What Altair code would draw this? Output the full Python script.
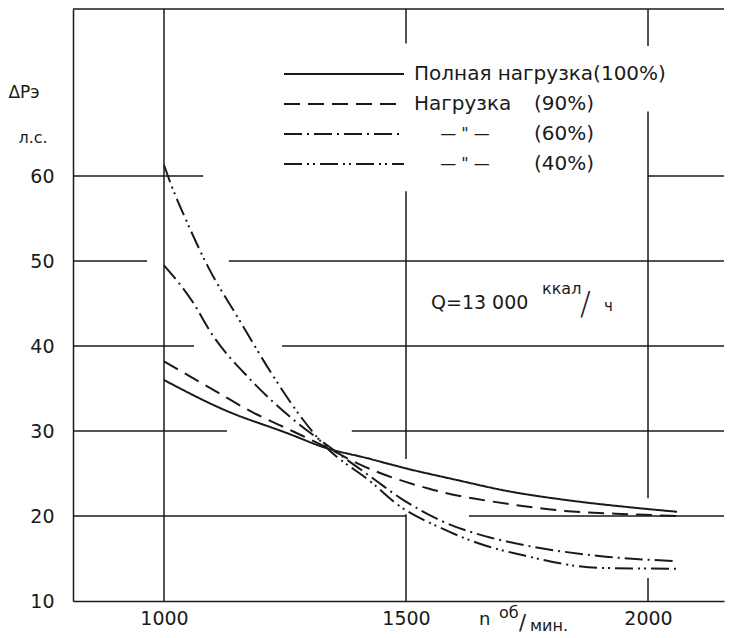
import altair as alt
import pandas as pd

# ---- data ----
series_names = ["Полная нагрузка (100%)", "Нагрузка (90%)", "Нагрузка (60%)", "Нагрузка (40%)"]

s100_x = [1000, 1128, 1252, 1335, 1420, 1500, 1600, 1713, 1828, 1967, 2060]
s100_y = [36.0, 32.4, 29.8, 28.0, 26.8, 25.6, 24.3, 22.9, 21.9, 21.0, 20.5]

s90_x = [1000, 1079, 1190, 1265, 1335, 1403, 1548, 1713, 1828, 1967, 2060]
s90_y = [38.2, 35.6, 32.0, 30.0, 28.1, 26.1, 23.2, 21.4, 20.6, 20.2, 20.0]

s60_x = [1000, 1058, 1099, 1176, 1264, 1340, 1430, 1486, 1574, 1665, 1733, 1899, 2054]
s60_y = [49.5, 45.3, 41.4, 36.2, 31.5, 28.2, 24.5, 22.2, 19.4, 17.6, 16.7, 15.3, 14.7]

s40_x = [1000, 1016, 1045, 1093, 1150, 1223, 1285, 1330, 1430, 1481, 1572, 1665, 1733, 1899, 2058]
s40_y = [61.3, 58.8, 54.9, 49.1, 43.6, 36.7, 31.5, 28.4, 23.9, 21.4, 18.6, 16.5, 15.5, 13.9, 13.8]

x_ticks = [1000, 1500, 2000]
y_ticks = [10, 20, 30, 40, 50, 60]

# grid segments (data units) - the drawing leaves gaps round curves and texts
grid_h_y = [60, 60, 50, 50, 40, 40, 30, 30, 20, 20]
grid_h_x1 = [812, 2000, 812, 1134, 812, 1244, 812, 1388, 812, 1630]
grid_h_x2 = [1081, 2157, 965, 2157, 1062, 2157, 1130, 2157, 1500, 2157]

grid_v_x = [1000, 1500, 1500, 1500, 2000, 2000, 2000]
grid_v_y1 = [10, 75.6, 26.7, 10, 75.3, 22.1, 10]
grid_v_y2 = [79.65, 79.65, 58.2, 20.2, 79.65, 67.6, 12.7]

# ---- build tables ----
rows = []
for name, xs, ys in zip(series_names, [s100_x, s90_x, s60_x, s40_x], [s100_y, s90_y, s60_y, s40_y]):
    for i, (a, b) in enumerate(zip(xs, ys)):
        rows.append({"series": name, "n": a, "dP": b, "order": i})
curves = pd.DataFrame(rows)
gh = pd.DataFrame({"y": grid_h_y, "x1": grid_h_x1, "x2": grid_h_x2})
gv = pd.DataFrame({"x": grid_v_x, "y1": grid_v_y1, "y2": grid_v_y2})

W, H = 651, 592
FONT = "DejaVu Sans"
INK = "#1a1a1a"
dashes = [[1, 0], [16, 8], [18, 5, 2, 5], [18, 5, 2, 4, 2, 5]]

xs = alt.Scale(domain=[812, 2157], nice=False, zero=False)
ys = alt.Scale(domain=[10, 79.65], nice=False, zero=False)
xaxis = alt.Axis(values=x_ticks, grid=False, ticks=False, title=None, labelFontSize=19,
                 labelPadding=8, labelFont=FONT, labelColor=INK, domainColor=INK, domainWidth=1.5,
                 format="d")
yaxis = alt.Axis(values=y_ticks, grid=False, ticks=False, title=None, labelFontSize=19,
                 labelPadding=19, labelFont=FONT, labelColor=INK, domainColor=INK, domainWidth=1.5)

lines = alt.Chart(curves).mark_line(interpolate="monotone", strokeWidth=2, color=INK).encode(
    x=alt.X("n:Q", scale=xs, axis=xaxis),
    y=alt.Y("dP:Q", scale=ys, axis=yaxis),
    strokeDash=alt.StrokeDash("series:N", scale=alt.Scale(domain=series_names, range=dashes), legend=None),
    detail="series:N",
    order="order:Q",
)

hgrid = alt.Chart(gh).mark_rule(strokeWidth=1.5, color=INK).encode(
    x=alt.X("x1:Q", scale=xs, axis=xaxis), x2="x2:Q", y=alt.Y("y:Q", scale=ys, axis=yaxis)
)
vgrid = alt.Chart(gv).mark_rule(strokeWidth=1.5, color=INK).encode(
    x=alt.X("x:Q", scale=xs, axis=xaxis), y=alt.Y("y1:Q", scale=ys, axis=yaxis), y2="y2:Q"
)

one = pd.DataFrame({"k": [0]})
top = alt.Chart(one).mark_rule(strokeWidth=1.5, color=INK).encode(
    x=alt.value(0), x2=alt.value(W), y=alt.value(0)
)

def txt(s, x, y, size=17, align="left", baseline="alphabetic", weight="normal"):
    return alt.Chart(one).mark_text(text=s, font=FONT, fontSize=size, color=INK,
                                    align=align, baseline=baseline, fontWeight=weight).encode(
        x=alt.value(x), y=alt.value(y))

layers = [hgrid, vgrid, top, lines]

# legend
row_y = [65, 95, 125, 155]
legend_right = ["Полная нагрузка(100%)", "(90%)", "(60%)", "(40%)"]
for i in range(4):
    layers.append(alt.Chart(one).mark_rule(strokeWidth=2, color=INK, strokeDash=dashes[i]).encode(
        x=alt.value(211), x2=alt.value(331), y=alt.value(row_y[i])))
layers.append(txt(legend_right[0], 341, row_y[0], 20, baseline="middle"))
layers.append(txt("Нагрузка", 341, row_y[1], 20, baseline="middle"))
layers.append(txt(legend_right[1], 461, row_y[1], 20, baseline="middle"))
for i in (2, 3):
    layers.append(txt("— \" —", 392, row_y[i], 16, align="center", baseline="middle"))
    layers.append(txt(legend_right[i], 461, row_y[i], 20, baseline="middle"))

# annotation Q
layers.append(txt("Q=13 000", 358, 300, 19))
layers.append(txt("ккал", 469, 285, 16))
layers.append(txt("/", 507, 305, 32, weight="lighter"))
layers.append(txt("ч", 531, 302, 15))

# axis titles
layers.append(txt("ΔPэ", -49, 89, 17, align="center"))
layers.append(txt("л.с.", -40, 134, 16, align="center"))
layers.append(txt("n", 406, 616, 18))
layers.append(txt("об", 426, 609, 16))
layers.append(txt("/", 446, 621, 21))
layers.append(txt("мин.", 457, 622, 16))

chart = alt.layer(*layers).properties(width=W, height=H, padding=0).configure_view(stroke=None)

chart.save("out.html", embed_options={"renderer": "svg", "actions": False})
